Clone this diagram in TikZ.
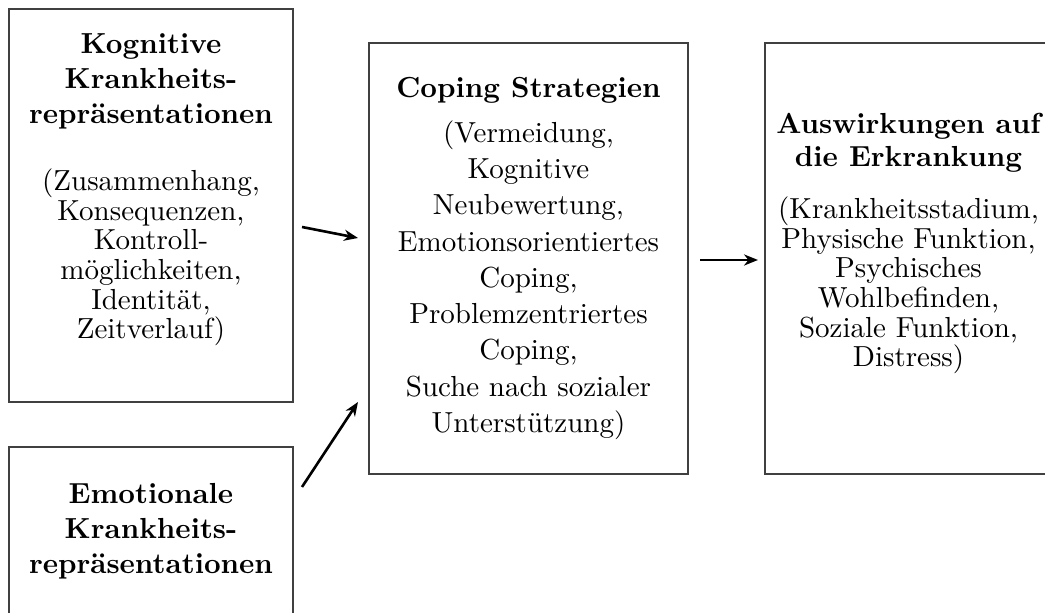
\documentclass[tikz,border=0pt]{standalone}
\usetikzlibrary{arrows.meta}
\begin{document}
\begin{tikzpicture}[x=0.3448pt,y=-0.3448pt,
  boxstyle/.style={draw=black!75,line width=0.45pt,rectangle,inner sep=0pt},
  headtext/.style={align=center,anchor=north,inner sep=0pt,font=\bfseries\fontsize{10}{12}\selectfont},
  bodytext/.style={align=center,anchor=north,inner sep=0pt,font=\fontsize{10}{10.25}\selectfont},
  flow/.style={line width=0.9pt,-{Stealth[length=4.8pt,width=3.8pt,inset=1.5pt]}}]
\useasboundingbox (0,0) rectangle (1045,613);
\clip (0,0) rectangle (1045,613);
% boxes
\node[boxstyle,minimum width=97.92pt,minimum height=135.5pt] (kog) at (151,205.5) {};
\node[boxstyle,minimum width=97.92pt,minimum height=70pt] (emo) at (151,548.5) {};
\node[boxstyle,minimum width=110pt,minimum height=148.6pt] (cop) at (528.5,258.5) {};
\node[boxstyle,minimum width=98.96pt,minimum height=148.6pt] (aus) at (908.5,258.5) {};
% texts
\node[headtext] (kogh) at (151,33) {Kognitive\\Krankheits-\\repräsentationen};
\node[bodytext] (kogb) at (151,168) {(Zusammenhang,\\Konsequenzen,\\Kontroll-\\möglichkeiten,\\Identität,\\Zeitverlauf)};
\node[headtext] (emoh) at (151,483) {Emotionale\\Krankheits-\\repräsentationen};
\node[headtext] (coph) at (528.5,77) {Coping Strategien};
\node[bodytext,font=\fontsize{10}{12.5}\selectfont] (copb) at (528.5,120) {(Vermeidung,\\Kognitive\\Neubewertung,\\Emotionsorientiertes\\Coping,\\Problemzentriertes\\Coping,\\Suche nach sozialer\\Unterstützung)};
\node[headtext,font=\bfseries\fontsize{10}{11.4}\selectfont] (aush) at (908.5,113) {Auswirkungen auf\\die Erkrankung};
\node[bodytext] (ausb) at (908.5,196) {(Krankheitsstadium,\\Physische Funktion,\\Psychisches\\Wohlbefinden,\\Soziale Funktion,\\Distress)};
% arrows
\coordinate (a1s) at (302,227);
\coordinate (a1e) at (358,238);
\coordinate (a2s) at (302,487);
\coordinate (a2e) at (358,402);
\coordinate (a3s) at (700,260);
\coordinate (a3e) at (758,260);
\draw[flow] (a1s) -- (a1e);
\draw[flow] (a2s) -- (a2e);
\draw[flow] (a3s) -- (a3e);
\end{tikzpicture}
\end{document}
